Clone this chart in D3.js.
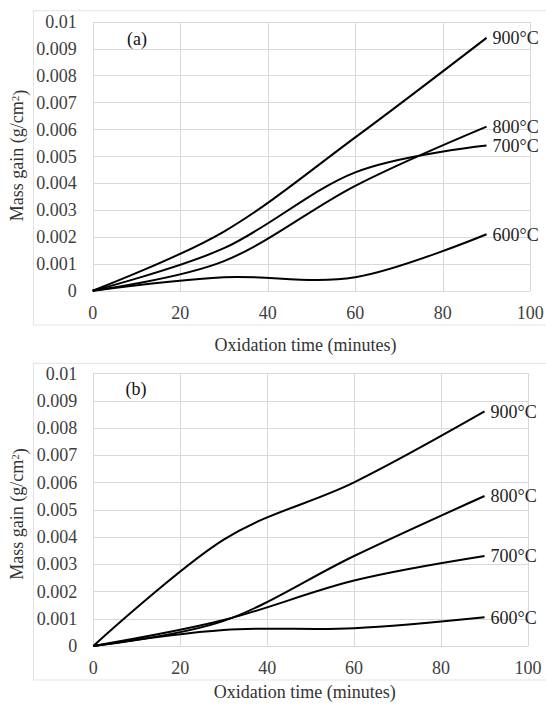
<html>
<head>
<meta charset="utf-8">
<script src="https://d3js.org/d3.v7.min.js"></script>
<style>
body, html { margin: 0; padding: 0; background: #fff; }
text { font-family: 'Liberation Serif', 'Times New Roman', Times, 'DejaVu Serif', serif; font-size: 18px; }
.grid line { stroke: #d9d9d9; stroke-width: 1; shape-rendering: crispEdges; }
.tick-label { fill: #404040; }
.series { fill: none; stroke: #000; stroke-width: 2; }
</style>
</head>
<body>
<div id="chart"></div>
<script>
// oxidation time in minutes
var times = [0, 30, 60, 90]
var temps = ["600°C", "700°C", "800°C", "900°C"]

// mass gain (g/cm2), panel (a)
var a600 = [0, 0.0005, 0.0005, 0.0021]
var a700 = [0, 0.00158, 0.0044, 0.0054]
var a800 = [0, 0.0011, 0.0039, 0.0061]
var a900 = [0, 0.0022, 0.0057, 0.0094]

// mass gain (g/cm2), panel (b)
var b600 = [0, 0.00059, 0.00065, 0.00105]
var b700 = [0, 0.00095, 0.0024, 0.0033]
var b800 = [0, 0.00092, 0.0033, 0.0055]
var b900 = [0, 0.0039, 0.0060, 0.0086]

var xTicks = [0, 20, 40, 60, 80, 100]
var yTicks = [0, 0.001, 0.002, 0.003, 0.004, 0.005, 0.006, 0.007, 0.008, 0.009, 0.01]

var W = 546, H = 707
var FONT = "'Liberation Serif', 'Times New Roman', Times, 'DejaVu Serif', serif"

var svg = d3.select("#chart").append("svg")
  .attr("width", W)
  .attr("height", H)
  .attr("font-family", FONT)
  .attr("font-size", 18)

var panels = [
  { tag: "(a)", series: [a600, a700, a800, a900],
    left: 92.7, right: 530.3, top: 21.7, bottom: 290.7,
    frameTop: 10.7, frameBottom: 325, xLabY: 313, titleY: 345, yTitleY: 155.5, tagX: 137, tagY: 38.5 },
  { tag: "(b)", series: [b600, b700, b800, b900],
    left: 93.3, right: 528, top: 373.3, bottom: 646,
    frameTop: 363.3, frameBottom: 680, xLabY: 668, titleY: 692, yTitleY: 514, tagX: 136, tagY: 389 }
]

panels.forEach(function(p) {
  var x = d3.scaleLinear().domain([0, 100]).range([p.left, p.right])
  var y = d3.scaleLinear().domain([0, 0.01]).range([p.bottom, p.top])

  // outer chart frame
  svg.append("rect")
    .attr("x", 33.5).attr("y", p.frameTop)
    .attr("width", W).attr("height", p.frameBottom - p.frameTop)
    .attr("fill", "none").attr("stroke", "#e3e3e3").attr("stroke-width", 1)

  var g = svg.append("g").attr("class", "grid")
  g.selectAll(".h").data(yTicks).enter().append("line")
    .attr("x1", p.left).attr("x2", p.right)
    .attr("y1", function(d) { return Math.round(y(d)) + 0.5 })
    .attr("y2", function(d) { return Math.round(y(d)) + 0.5 })
  g.selectAll(".v").data(xTicks).enter().append("line")
    .attr("y1", p.top).attr("y2", p.bottom)
    .attr("x1", function(d) { return Math.round(x(d)) + 0.5 })
    .attr("x2", function(d) { return Math.round(x(d)) + 0.5 })

  // tick labels
  svg.append("g").selectAll("text").data(yTicks).enter().append("text")
    .attr("class", "tick-label")
    .attr("x", p.left - 16)
    .attr("y", function(d) { return y(d) })
    .attr("dy", "0.35em")
    .attr("text-anchor", "end")
    .text(function(d) { return d3.format("~g")(d) })

  svg.append("g").selectAll("text").data(xTicks).enter().append("text")
    .attr("class", "tick-label")
    .attr("x", function(d) { return x(d) })
    .attr("y", p.xLabY)
    .attr("dy", "0.35em")
    .attr("text-anchor", "middle")
    .text(function(d) { return d })

  // axis titles
  svg.append("text")
    .attr("x", (p.left + p.right) / 2 - 6)
    .attr("y", p.titleY)
    .attr("dy", "0.35em")
    .attr("text-anchor", "middle")
    .attr("fill", "#333")
    .text("Oxidation time (minutes)")

  var yt = svg.append("text")
    .attr("transform", "translate(17," + p.yTitleY + ") rotate(-90)")
    .attr("dy", "0.35em")
    .attr("text-anchor", "middle")
    .attr("fill", "#333")
  yt.append("tspan").text("Mass gain (g/cm")
  yt.append("tspan").attr("dy", "-0.4em").attr("font-size", "11px").text("2")
  yt.append("tspan").attr("dy", "0.4em").text(")")

  // curves (Excel-style smoothed lines)
  var line = d3.line()
    .curve(d3.curveCatmullRom.alpha(0))
    .x(function(d, i) { return x(times[i]) })
    .y(function(d) { return y(d) })

  p.series.forEach(function(s, k) {
    svg.append("path")
      .attr("class", "series")
      .attr("d", line(s))

    var last = s.length - 1
    svg.append("text")
      .attr("x", x(times[last]) + 6)
      .attr("y", y(s[last]))
      .attr("dy", "0.35em")
      .attr("fill", "#222")
      .text(temps[k])
  })

  svg.append("text")
    .attr("x", p.tagX).attr("y", p.tagY)
    .attr("dy", "0.35em")
    .attr("text-anchor", "middle")
    .attr("fill", "#111")
    .text(p.tag)
})
</script>
</body>
</html>
